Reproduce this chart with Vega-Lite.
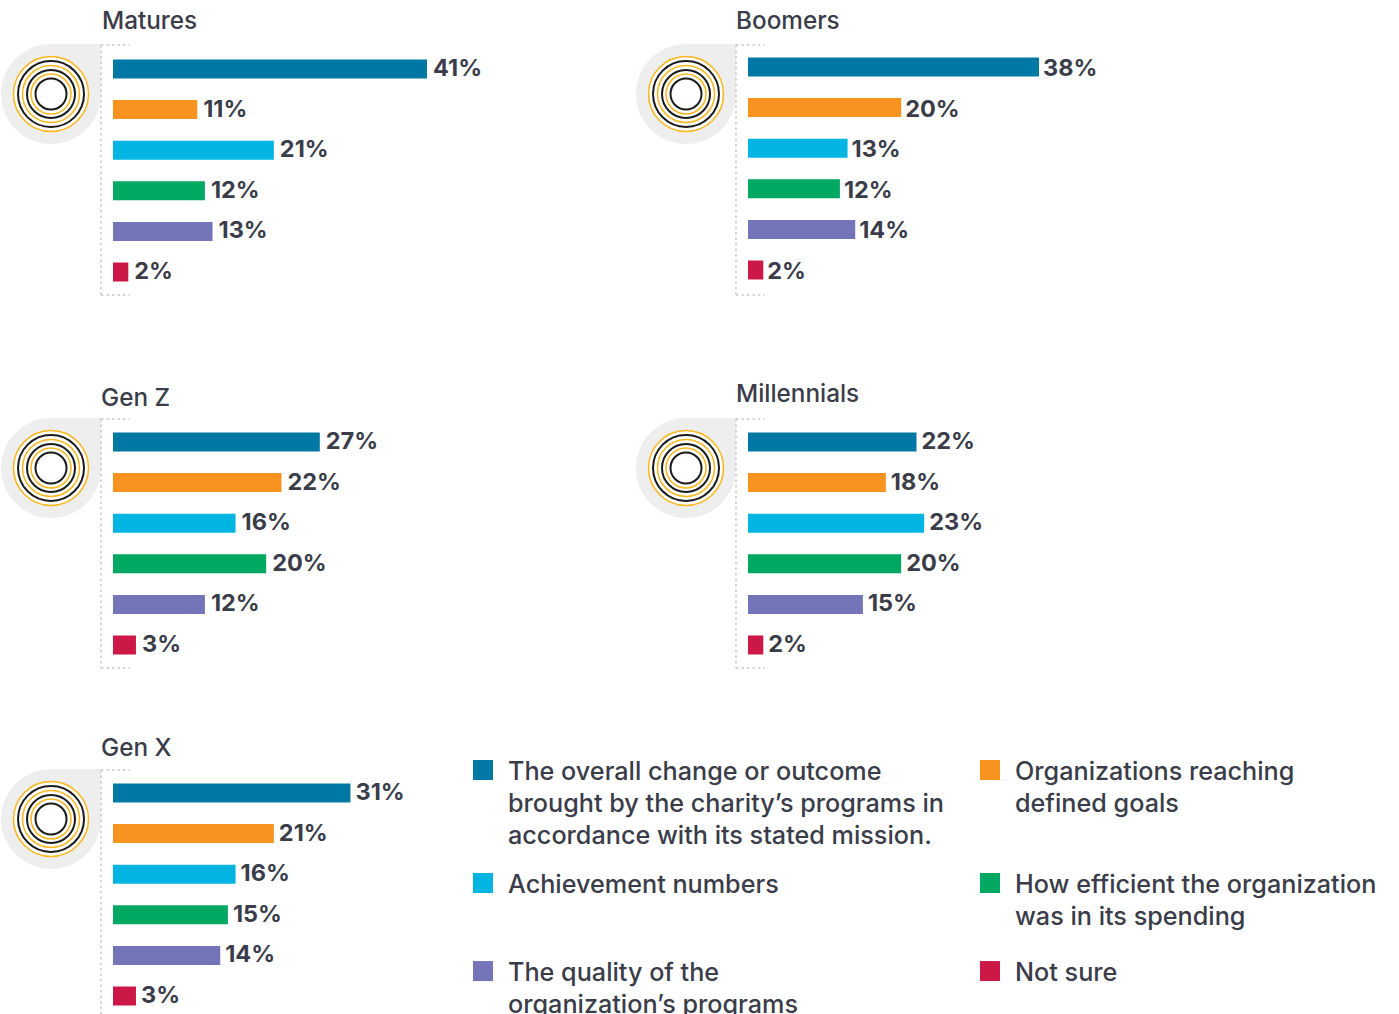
{"$schema":"https://vega.github.io/schema/vega-lite/v6.json","padding":0,"background":"white",
"config":{"view":{"stroke":null},"axis":{"disable":true},"legend":{"disable":true},"title":{"font":"Inter","fontSize":24.3,"fontWeight":500,"color":"#3a3d49","anchor":"start","frame":"group"},"text":{"font":"Inter"}},
"datasets":{
"frame":[{"part":"frame"}],
"rings":[{"ring":"r0"},{"ring":"r1"},{"ring":"r2"},{"ring":"r3"},{"ring":"r4"},{"ring":"r5"},{"ring":"r6"}],
"bars":[
{"gen":"Matures","cat":"change","rank":1,"value":41},{"gen":"Matures","cat":"goals","rank":2,"value":11},{"gen":"Matures","cat":"numbers","rank":3,"value":21},{"gen":"Matures","cat":"efficient","rank":4,"value":12},{"gen":"Matures","cat":"quality","rank":5,"value":13},{"gen":"Matures","cat":"notsure","rank":6,"value":2},
{"gen":"Boomers","cat":"change","rank":1,"value":38},{"gen":"Boomers","cat":"goals","rank":2,"value":20},{"gen":"Boomers","cat":"numbers","rank":3,"value":13},{"gen":"Boomers","cat":"efficient","rank":4,"value":12},{"gen":"Boomers","cat":"quality","rank":5,"value":14},{"gen":"Boomers","cat":"notsure","rank":6,"value":2},
{"gen":"Gen Z","cat":"change","rank":1,"value":27},{"gen":"Gen Z","cat":"goals","rank":2,"value":22},{"gen":"Gen Z","cat":"numbers","rank":3,"value":16},{"gen":"Gen Z","cat":"efficient","rank":4,"value":20},{"gen":"Gen Z","cat":"quality","rank":5,"value":12},{"gen":"Gen Z","cat":"notsure","rank":6,"value":3},
{"gen":"Millennials","cat":"change","rank":1,"value":22},{"gen":"Millennials","cat":"goals","rank":2,"value":18},{"gen":"Millennials","cat":"numbers","rank":3,"value":23},{"gen":"Millennials","cat":"efficient","rank":4,"value":20},{"gen":"Millennials","cat":"quality","rank":5,"value":15},{"gen":"Millennials","cat":"notsure","rank":6,"value":2},
{"gen":"Gen X","cat":"change","rank":1,"value":31},{"gen":"Gen X","cat":"goals","rank":2,"value":21},{"gen":"Gen X","cat":"numbers","rank":3,"value":16},{"gen":"Gen X","cat":"efficient","rank":4,"value":15},{"gen":"Gen X","cat":"quality","rank":5,"value":14},{"gen":"Gen X","cat":"notsure","rank":6,"value":3}
],
"legend":[
{"cat":"change","col":1,"row":1,"label":["The overall change or outcome","brought by the charity’s programs in","accordance with its stated mission."]},
{"cat":"goals","col":2,"row":1,"label":["Organizations reaching","defined goals"]},
{"cat":"numbers","col":1,"row":2,"label":["Achievement numbers"]},
{"cat":"efficient","col":2,"row":2,"label":["How efficient the organization","was in its spending"]},
{"cat":"quality","col":1,"row":2.779,"label":["The quality of the","organization’s programs"]},
{"cat":"notsure","col":2,"row":2.779,"label":["Not sure"]}
]},
"spacing":0,
"vconcat":[
{"spacing":35,"hconcat":[
{"width":600,"height":375,"title":{"text":"Matures","dx":102,"offset":-34},"layer":[
{"data":{"name":"rings"},"mark":{"type":"point","filled":true,"opacity":1},"encoding":{"order":{"field":"ring"},"x":{"datum":-8.09,"type":"quantitative","scale":{"domain":[-14.75,63.58],"nice":false,"zero":false,"padding":0}},"y":{"datum":1.616,"type":"quantitative","scale":{"domain":[-0.7,8.537],"reverse":true,"nice":false,"zero":false,"padding":0}},"shape":{"field":"ring","scale":{"domain":["r0","r1","r2","r3","r4","r5","r6"],"range":["M0,-1 L1,-1 L1,0 A1,1 0 0 1 -1,0 A1,1 0 0 1 0,-1 Z","circle","circle","circle","circle","circle","circle"]}},"size":{"field":"ring","type":"ordinal","scale":{"type":"ordinal","domain":["r0","r1","r2","r3","r4","r5","r6"],"range":[10000,5625,4356,3249,2304,1600,961]}},"fill":{"field":"ring","scale":{"domain":["r0","r1","r2","r3","r4","r5","r6"],"range":["#eeeeee","#ffffff","#ffffff","#ffffff","#ffffff","#ffffff","#ffffff"]}},"stroke":{"field":"ring","scale":{"domain":["r0","r1","r2","r3","r4","r5","r6"],"range":["#eeeeee","#fbb61a","#1a1a1a","#fbb61a","#1a1a1a","#fbb61a","#1a1a1a"]}},"strokeWidth":{"field":"ring","type":"ordinal","scale":{"type":"ordinal","domain":["r0","r1","r2","r3","r4","r5","r6"],"range":[0,1.5,2,1.5,2,1.5,2]}}}},
{"data":{"name":"frame"},"mark":{"type":"rule","stroke":"#c9c9c9","strokeWidth":1.5,"strokeDash":[2.5,3]},"encoding":{"x":{"datum":-1.57},"y":{"datum":0.409},"y2":{"datum":6.567}}},
{"data":{"name":"frame"},"mark":{"type":"rule","stroke":"#c9c9c9","strokeWidth":1.5,"strokeDash":[2.5,3]},"encoding":{"x":{"datum":-1.57},"x2":{"datum":2.2},"y":{"datum":0.409}}},
{"data":{"name":"frame"},"mark":{"type":"rule","stroke":"#c9c9c9","strokeWidth":1.5,"strokeDash":[2.5,3]},"encoding":{"x":{"datum":-1.57},"x2":{"datum":2.2},"y":{"datum":6.567}}},
{"data":{"name":"bars"},"transform":[{"filter":"datum.gen==='Matures'"}],"mark":{"type":"bar","orient":"horizontal","size":19},"encoding":{"x":{"field":"value","type":"quantitative","stack":null},"y":{"field":"rank","type":"quantitative"},"color":{"field":"cat","scale":{"domain":["change","goals","numbers","efficient","quality","notsure"],"range":["#0078a4","#f7931e","#00b5e2","#00a862","#7474b8","#cc1846"]}}}},
{"data":{"name":"bars"},"transform":[{"filter":"datum.gen==='Matures'"},{"calculate":"datum.value+'%'","as":"txt"}],"mark":{"type":"text","align":"left","baseline":"middle","dx":6,"fontSize":23.5,"fontWeight":700,"color":"#3a3d49"},"encoding":{"x":{"field":"value","type":"quantitative","stack":null},"y":{"field":"rank","type":"quantitative"},"text":{"field":"txt"}}}
]},
{"width":600,"height":375,"title":{"text":"Boomers","dx":101,"offset":-34},"layer":[
{"data":{"name":"rings"},"mark":{"type":"point","filled":true,"opacity":1},"encoding":{"order":{"field":"ring"},"x":{"datum":-8.09,"type":"quantitative","scale":{"domain":[-14.75,63.58],"nice":false,"zero":false,"padding":0}},"y":{"datum":1.665,"type":"quantitative","scale":{"domain":[-0.65,8.586],"reverse":true,"nice":false,"zero":false,"padding":0}},"shape":{"field":"ring","scale":{"domain":["r0","r1","r2","r3","r4","r5","r6"],"range":["M0,-1 L1,-1 L1,0 A1,1 0 0 1 -1,0 A1,1 0 0 1 0,-1 Z","circle","circle","circle","circle","circle","circle"]}},"size":{"field":"ring","type":"ordinal","scale":{"type":"ordinal","domain":["r0","r1","r2","r3","r4","r5","r6"],"range":[10000,5625,4356,3249,2304,1600,961]}},"fill":{"field":"ring","scale":{"domain":["r0","r1","r2","r3","r4","r5","r6"],"range":["#eeeeee","#ffffff","#ffffff","#ffffff","#ffffff","#ffffff","#ffffff"]}},"stroke":{"field":"ring","scale":{"domain":["r0","r1","r2","r3","r4","r5","r6"],"range":["#eeeeee","#fbb61a","#1a1a1a","#fbb61a","#1a1a1a","#fbb61a","#1a1a1a"]}},"strokeWidth":{"field":"ring","type":"ordinal","scale":{"type":"ordinal","domain":["r0","r1","r2","r3","r4","r5","r6"],"range":[0,1.5,2,1.5,2,1.5,2]}}}},
{"data":{"name":"frame"},"mark":{"type":"rule","stroke":"#c9c9c9","strokeWidth":1.5,"strokeDash":[2.5,3]},"encoding":{"x":{"datum":-1.57},"y":{"datum":0.458},"y2":{"datum":6.616}}},
{"data":{"name":"frame"},"mark":{"type":"rule","stroke":"#c9c9c9","strokeWidth":1.5,"strokeDash":[2.5,3]},"encoding":{"x":{"datum":-1.57},"x2":{"datum":2.2},"y":{"datum":0.458}}},
{"data":{"name":"frame"},"mark":{"type":"rule","stroke":"#c9c9c9","strokeWidth":1.5,"strokeDash":[2.5,3]},"encoding":{"x":{"datum":-1.57},"x2":{"datum":2.2},"y":{"datum":6.616}}},
{"data":{"name":"bars"},"transform":[{"filter":"datum.gen==='Boomers'"}],"mark":{"type":"bar","orient":"horizontal","size":19},"encoding":{"x":{"field":"value","type":"quantitative","stack":null},"y":{"field":"rank","type":"quantitative"},"color":{"field":"cat","scale":{"domain":["change","goals","numbers","efficient","quality","notsure"],"range":["#0078a4","#f7931e","#00b5e2","#00a862","#7474b8","#cc1846"]}}}},
{"data":{"name":"bars"},"transform":[{"filter":"datum.gen==='Boomers'"},{"calculate":"datum.value+'%'","as":"txt"}],"mark":{"type":"text","align":"left","baseline":"middle","dx":4,"dy":2,"fontSize":23.5,"fontWeight":700,"color":"#3a3d49"},"encoding":{"x":{"field":"value","type":"quantitative","stack":null},"y":{"field":"rank","type":"quantitative"},"text":{"field":"txt"}}}
]}
]},
{"spacing":35,"hconcat":[
{"width":600,"height":350,"title":{"text":"Gen Z","dx":101,"offset":-36},"layer":[
{"data":{"name":"rings"},"mark":{"type":"point","filled":true,"opacity":1},"encoding":{"order":{"field":"ring"},"x":{"datum":-8.09,"type":"quantitative","scale":{"domain":[-14.75,63.58],"nice":false,"zero":false,"padding":0}},"y":{"datum":1.64,"type":"quantitative","scale":{"domain":[-0.65,7.971],"reverse":true,"nice":false,"zero":false,"padding":0}},"shape":{"field":"ring","scale":{"domain":["r0","r1","r2","r3","r4","r5","r6"],"range":["M0,-1 L1,-1 L1,0 A1,1 0 0 1 -1,0 A1,1 0 0 1 0,-1 Z","circle","circle","circle","circle","circle","circle"]}},"size":{"field":"ring","type":"ordinal","scale":{"type":"ordinal","domain":["r0","r1","r2","r3","r4","r5","r6"],"range":[10000,5625,4356,3249,2304,1600,961]}},"fill":{"field":"ring","scale":{"domain":["r0","r1","r2","r3","r4","r5","r6"],"range":["#eeeeee","#ffffff","#ffffff","#ffffff","#ffffff","#ffffff","#ffffff"]}},"stroke":{"field":"ring","scale":{"domain":["r0","r1","r2","r3","r4","r5","r6"],"range":["#eeeeee","#fbb61a","#1a1a1a","#fbb61a","#1a1a1a","#fbb61a","#1a1a1a"]}},"strokeWidth":{"field":"ring","type":"ordinal","scale":{"type":"ordinal","domain":["r0","r1","r2","r3","r4","r5","r6"],"range":[0,1.5,2,1.5,2,1.5,2]}}}},
{"data":{"name":"frame"},"mark":{"type":"rule","stroke":"#c9c9c9","strokeWidth":1.5,"strokeDash":[2.5,3]},"encoding":{"x":{"datum":-1.57},"y":{"datum":0.433},"y2":{"datum":6.567}}},
{"data":{"name":"frame"},"mark":{"type":"rule","stroke":"#c9c9c9","strokeWidth":1.5,"strokeDash":[2.5,3]},"encoding":{"x":{"datum":-1.57},"x2":{"datum":2.2},"y":{"datum":0.433}}},
{"data":{"name":"frame"},"mark":{"type":"rule","stroke":"#c9c9c9","strokeWidth":1.5,"strokeDash":[2.5,3]},"encoding":{"x":{"datum":-1.57},"x2":{"datum":2.2},"y":{"datum":6.567}}},
{"data":{"name":"bars"},"transform":[{"filter":"datum.gen==='Gen Z'"}],"mark":{"type":"bar","orient":"horizontal","size":19},"encoding":{"x":{"field":"value","type":"quantitative","stack":null},"y":{"field":"rank","type":"quantitative"},"color":{"field":"cat","scale":{"domain":["change","goals","numbers","efficient","quality","notsure"],"range":["#0078a4","#f7931e","#00b5e2","#00a862","#7474b8","#cc1846"]}}}},
{"data":{"name":"bars"},"transform":[{"filter":"datum.gen==='Gen Z'"},{"calculate":"datum.value+'%'","as":"txt"}],"mark":{"type":"text","align":"left","baseline":"middle","dx":6,"fontSize":23.5,"fontWeight":700,"color":"#3a3d49"},"encoding":{"x":{"field":"value","type":"quantitative","stack":null},"y":{"field":"rank","type":"quantitative"},"text":{"field":"txt"}}}
]},
{"width":600,"height":350,"title":{"text":"Millennials","dx":101,"offset":-32},"layer":[
{"data":{"name":"rings"},"mark":{"type":"point","filled":true,"opacity":1},"encoding":{"order":{"field":"ring"},"x":{"datum":-8.09,"type":"quantitative","scale":{"domain":[-14.75,63.58],"nice":false,"zero":false,"padding":0}},"y":{"datum":1.64,"type":"quantitative","scale":{"domain":[-0.65,7.971],"reverse":true,"nice":false,"zero":false,"padding":0}},"shape":{"field":"ring","scale":{"domain":["r0","r1","r2","r3","r4","r5","r6"],"range":["M0,-1 L1,-1 L1,0 A1,1 0 0 1 -1,0 A1,1 0 0 1 0,-1 Z","circle","circle","circle","circle","circle","circle"]}},"size":{"field":"ring","type":"ordinal","scale":{"type":"ordinal","domain":["r0","r1","r2","r3","r4","r5","r6"],"range":[10000,5625,4356,3249,2304,1600,961]}},"fill":{"field":"ring","scale":{"domain":["r0","r1","r2","r3","r4","r5","r6"],"range":["#eeeeee","#ffffff","#ffffff","#ffffff","#ffffff","#ffffff","#ffffff"]}},"stroke":{"field":"ring","scale":{"domain":["r0","r1","r2","r3","r4","r5","r6"],"range":["#eeeeee","#fbb61a","#1a1a1a","#fbb61a","#1a1a1a","#fbb61a","#1a1a1a"]}},"strokeWidth":{"field":"ring","type":"ordinal","scale":{"type":"ordinal","domain":["r0","r1","r2","r3","r4","r5","r6"],"range":[0,1.5,2,1.5,2,1.5,2]}}}},
{"data":{"name":"frame"},"mark":{"type":"rule","stroke":"#c9c9c9","strokeWidth":1.5,"strokeDash":[2.5,3]},"encoding":{"x":{"datum":-1.57},"y":{"datum":0.433},"y2":{"datum":6.567}}},
{"data":{"name":"frame"},"mark":{"type":"rule","stroke":"#c9c9c9","strokeWidth":1.5,"strokeDash":[2.5,3]},"encoding":{"x":{"datum":-1.57},"x2":{"datum":2.2},"y":{"datum":0.433}}},
{"data":{"name":"frame"},"mark":{"type":"rule","stroke":"#c9c9c9","strokeWidth":1.5,"strokeDash":[2.5,3]},"encoding":{"x":{"datum":-1.57},"x2":{"datum":2.2},"y":{"datum":6.567}}},
{"data":{"name":"bars"},"transform":[{"filter":"datum.gen==='Millennials'"}],"mark":{"type":"bar","orient":"horizontal","size":19},"encoding":{"x":{"field":"value","type":"quantitative","stack":null},"y":{"field":"rank","type":"quantitative"},"color":{"field":"cat","scale":{"domain":["change","goals","numbers","efficient","quality","notsure"],"range":["#0078a4","#f7931e","#00b5e2","#00a862","#7474b8","#cc1846"]}}}},
{"data":{"name":"bars"},"transform":[{"filter":"datum.gen==='Millennials'"},{"calculate":"datum.value+'%'","as":"txt"}],"mark":{"type":"text","align":"left","baseline":"middle","dx":5,"fontSize":23.5,"fontWeight":700,"color":"#3a3d49"},"encoding":{"x":{"field":"value","type":"quantitative","stack":null},"y":{"field":"rank","type":"quantitative"},"text":{"field":"txt"}}}
]}
]},
{"spacing":0,"hconcat":[
{"width":460,"height":289,"title":{"text":"Gen X","dx":101,"offset":-36},"layer":[
{"data":{"name":"rings"},"mark":{"type":"point","filled":true,"opacity":1},"encoding":{"order":{"field":"ring"},"x":{"datum":-8.09,"type":"quantitative","scale":{"domain":[-14.75,45.3],"nice":false,"zero":false,"padding":0}},"y":{"datum":1.64,"type":"quantitative","scale":{"domain":[-0.675,6.443],"reverse":true,"nice":false,"zero":false,"padding":0}},"shape":{"field":"ring","scale":{"domain":["r0","r1","r2","r3","r4","r5","r6"],"range":["M0,-1 L1,-1 L1,0 A1,1 0 0 1 -1,0 A1,1 0 0 1 0,-1 Z","circle","circle","circle","circle","circle","circle"]}},"size":{"field":"ring","type":"ordinal","scale":{"type":"ordinal","domain":["r0","r1","r2","r3","r4","r5","r6"],"range":[10000,5625,4356,3249,2304,1600,961]}},"fill":{"field":"ring","scale":{"domain":["r0","r1","r2","r3","r4","r5","r6"],"range":["#eeeeee","#ffffff","#ffffff","#ffffff","#ffffff","#ffffff","#ffffff"]}},"stroke":{"field":"ring","scale":{"domain":["r0","r1","r2","r3","r4","r5","r6"],"range":["#eeeeee","#fbb61a","#1a1a1a","#fbb61a","#1a1a1a","#fbb61a","#1a1a1a"]}},"strokeWidth":{"field":"ring","type":"ordinal","scale":{"type":"ordinal","domain":["r0","r1","r2","r3","r4","r5","r6"],"range":[0,1.5,2,1.5,2,1.5,2]}}}},
{"data":{"name":"frame"},"mark":{"type":"rule","stroke":"#c9c9c9","strokeWidth":1.5,"strokeDash":[2.5,3]},"encoding":{"x":{"datum":-1.57},"y":{"datum":0.433},"y2":{"datum":6.443}}},
{"data":{"name":"frame"},"mark":{"type":"rule","stroke":"#c9c9c9","strokeWidth":1.5,"strokeDash":[2.5,3]},"encoding":{"x":{"datum":-1.57},"x2":{"datum":2.2},"y":{"datum":0.433}}},
{"data":{"name":"bars"},"transform":[{"filter":"datum.gen==='Gen X'"}],"mark":{"type":"bar","orient":"horizontal","size":19},"encoding":{"x":{"field":"value","type":"quantitative","stack":null},"y":{"field":"rank","type":"quantitative"},"color":{"field":"cat","scale":{"domain":["change","goals","numbers","efficient","quality","notsure"],"range":["#0078a4","#f7931e","#00b5e2","#00a862","#7474b8","#cc1846"]}}}},
{"data":{"name":"bars"},"transform":[{"filter":"datum.gen==='Gen X'"},{"calculate":"datum.value+'%'","as":"txt"}],"mark":{"type":"text","align":"left","baseline":"middle","dx":5,"fontSize":23.5,"fontWeight":700,"color":"#3a3d49"},"encoding":{"x":{"field":"value","type":"quantitative","stack":null},"y":{"field":"rank","type":"quantitative"},"text":{"field":"txt"}}}
]},
{"width":939,"height":289,"layer":[
{"data":{"name":"legend"},"mark":{"type":"point","shape":"square","filled":true,"opacity":1,"size":400},"encoding":{"x":{"field":"col","type":"quantitative","scale":{"domain":[0.9546,2.8067],"nice":false,"zero":false,"padding":0}},"y":{"field":"row","type":"quantitative","scale":{"domain":[0.602,3.159],"reverse":true,"nice":false,"zero":false,"padding":0}},"color":{"field":"cat","scale":{"domain":["change","goals","numbers","efficient","quality","notsure"],"range":["#0078a4","#f7931e","#00b5e2","#00a862","#7474b8","#cc1846"]}}}},
{"data":{"name":"legend"},"mark":{"type":"text","align":"left","baseline":"alphabetic","dx":25,"dy":10,"fontSize":25.2,"fontWeight":500,"lineHeight":32,"color":"#3a3d49","clip":true},"encoding":{"x":{"field":"col","type":"quantitative"},"y":{"field":"row","type":"quantitative"},"text":{"field":"label"}}}
]}
]}
]}
